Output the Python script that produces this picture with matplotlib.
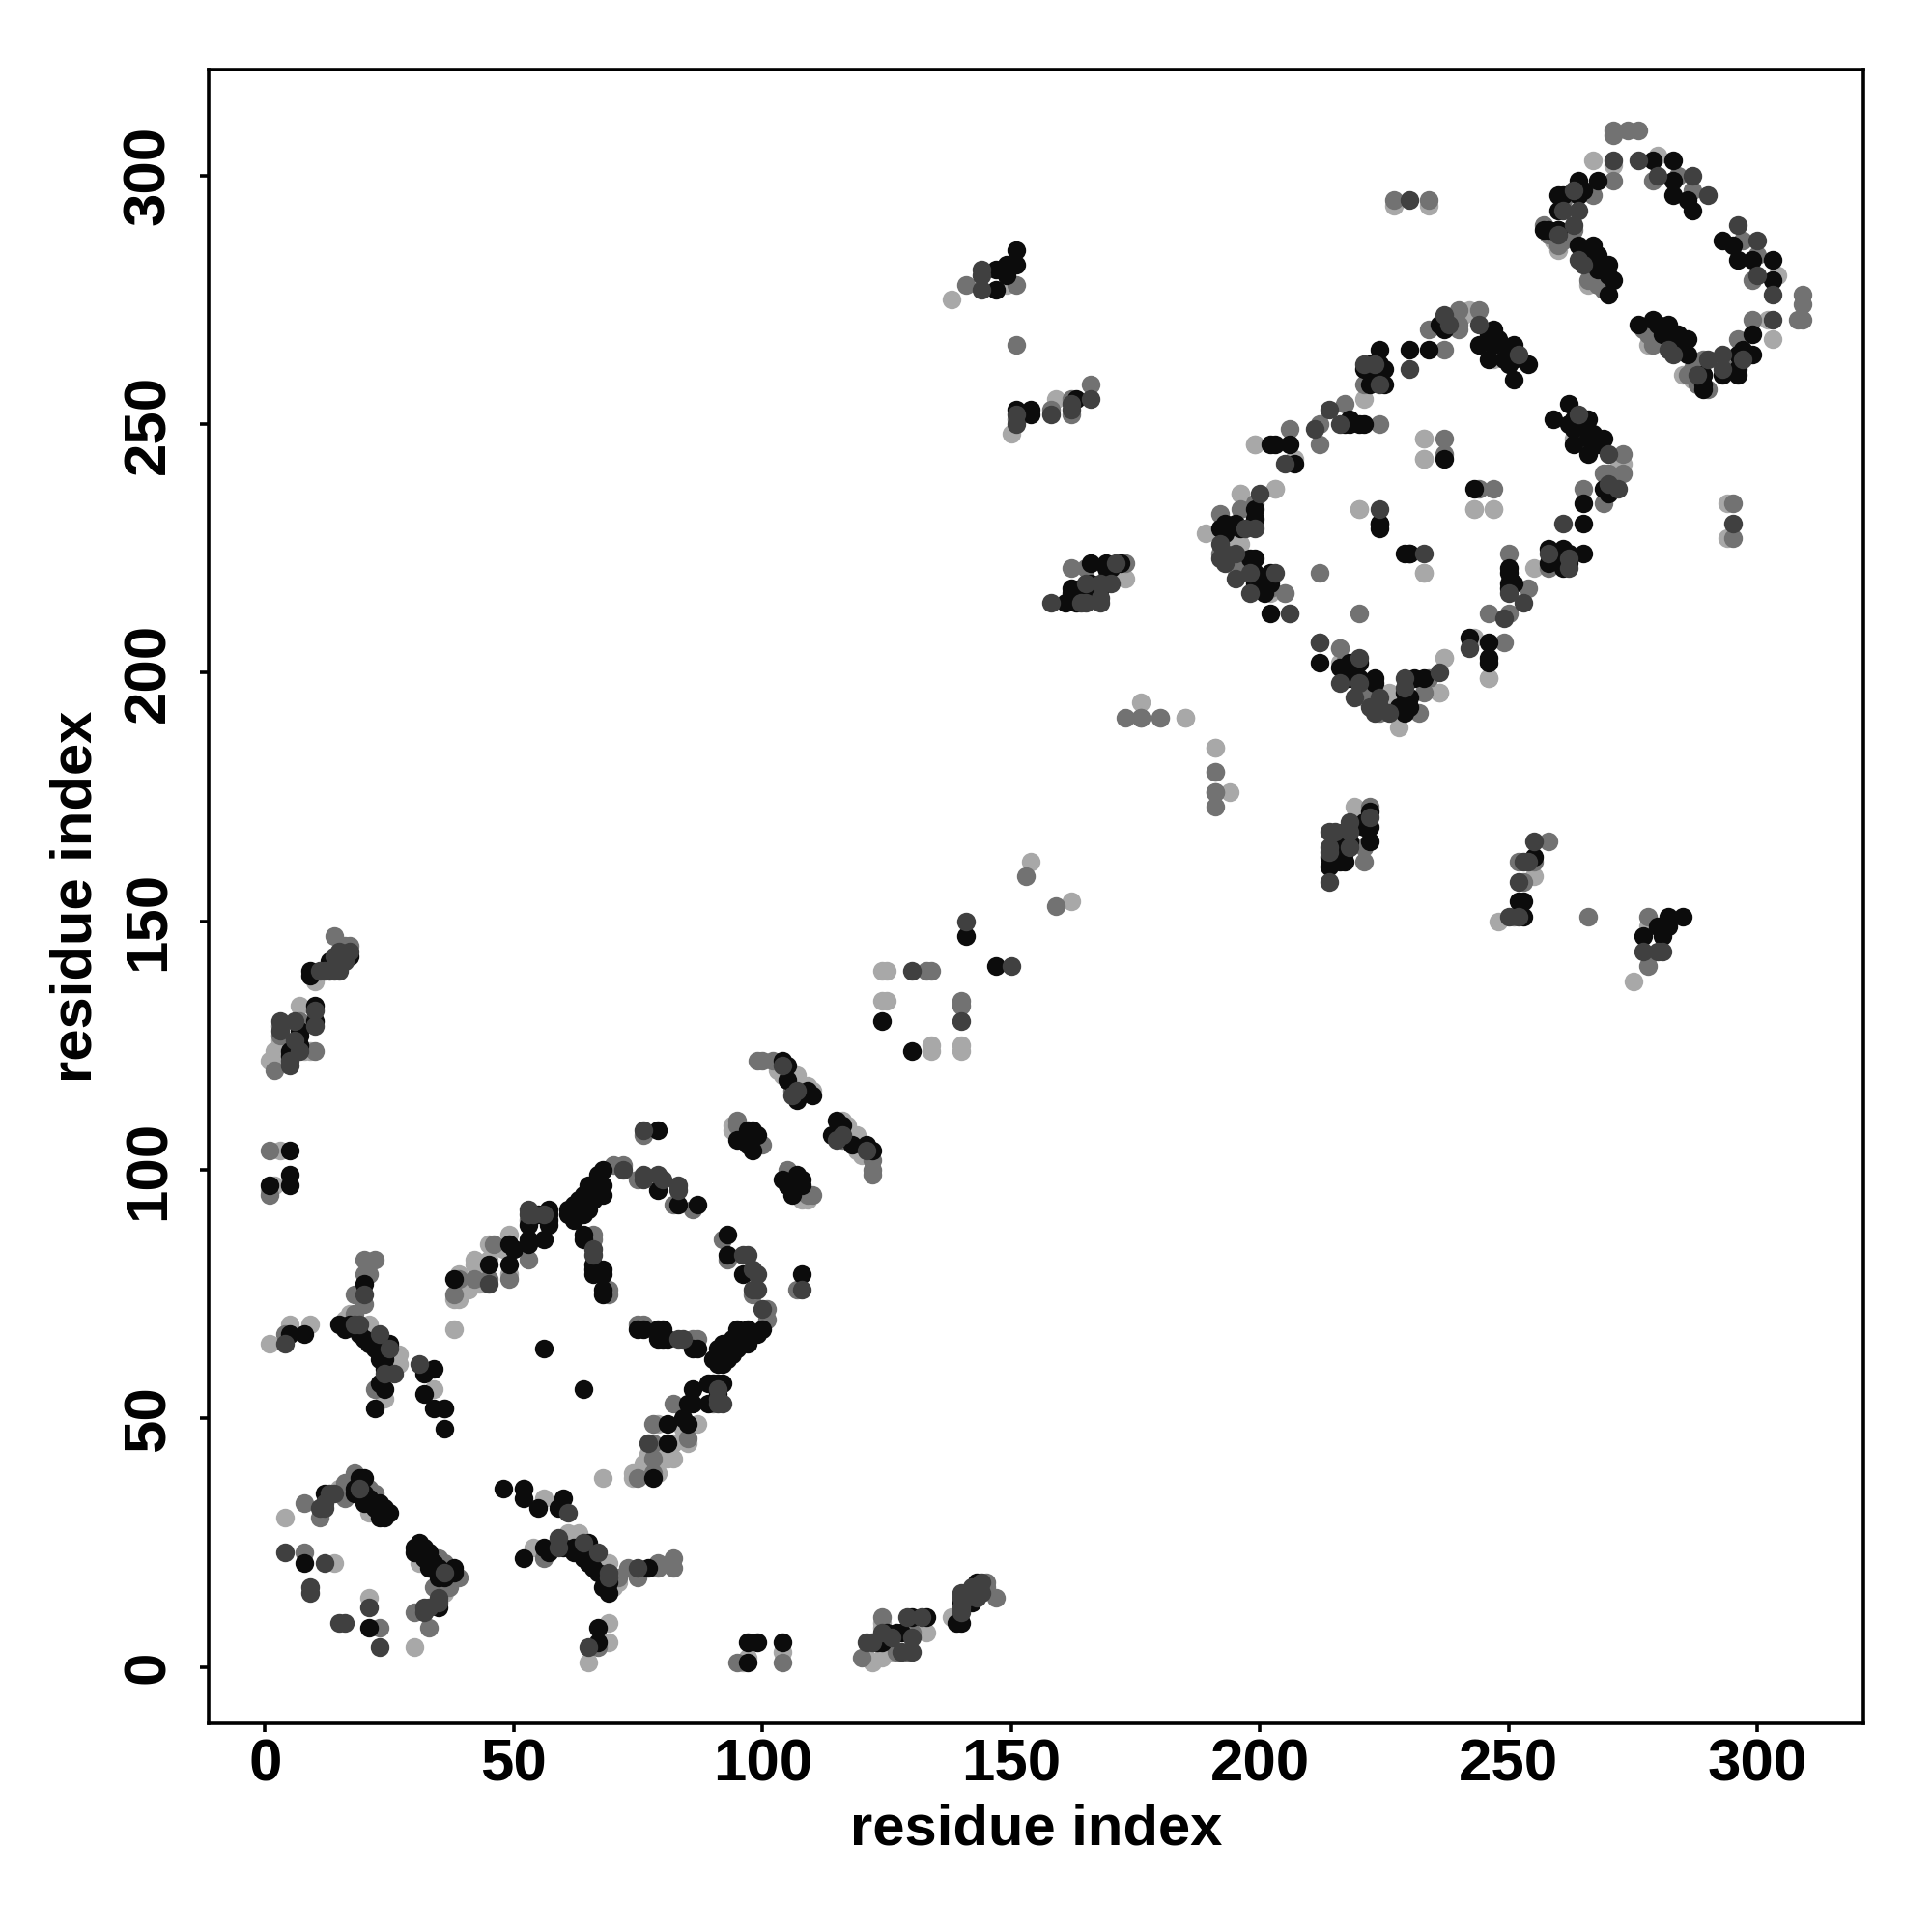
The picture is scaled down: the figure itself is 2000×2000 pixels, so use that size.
import matplotlib
matplotlib.use('Agg')
from matplotlib import pyplot as plt

plt.rcParams['font.family'] = ['Liberation Sans', 'DejaVu Sans']
plt.rcParams['font.weight'] = 'bold'

# contacts (i, j) with i < j, the map is symmetric so both sides get drawn
black = [
    (8,21),(18,36),(19,38),(20,38),(19,35),(20,35),(21,34),(22,33),(22,32),(23,31),(24,31),(24,32),(25,31),
    (23,30),(24,30),(20,33),(21,33),(18,35),(23,33),(12,35),
    (15,69),(17,69),(19,67),(22,64),(25,65),(24,60),(24,63),(24,56),(22,52),(32,59),(32,55),(34,52),(36,48),
    (5,97),(5,99),(5,104),(1,97),(8,67),(5,67),(16,68),(20,66),(21,65),(23,62),(20,77),(23,57),(22,65),(24,62),
    (38,78),(49,81),(49,85),(53,85),(53,89),(57,91),(55,91),(57,89),(61,91),(64,91),(63,94),(65,93),(65,97),
    (67,99),(68,97),(64,86),(66,81),(66,79),(68,79),(68,75),(79,96),(83,93),(87,93),(64,87),(68,76),(68,80),
    (66,80),(45,81),(53,86),(56,86),(57,90),(57,92),(65,92),(63,92),(61,92),(66,94),(65,95),(68,100),(68,95),
    (62,93),(64,95),(66,96),(67,97),(63,91),(62,90),(56,64),(34,60),(52,36),(50,84),
    (7,127),(10,130),(10,133),(9,140),(13,142),(17,143),(15,143),(5,123),(5,124),(7,125),(7,128),(9,139),
    (13,140),(15,142),(16,143),
    (97,108),(99,107),(96,106),(98,104),(98,108),(97,105),(95,106),(79,108),(105,121),(107,114),(110,115),
    (104,122),(105,118),(109,116),(98,107),(124,130),(141,147),
    (147,277),(147,281),(149,281),(151,285),(151,282),(154,253),(163,255),(161,214),(162,217),(164,217),
    (166,218),(166,222),(169,222),(149,282),(149,280),(151,253),(154,252),
    (162,216),(165,216),(168,217),(169,221),(170,221),(172,222),(163,214),
    (192,229),(196,229),(199,233),(199,223),(199,220),(202,220),(202,212),(202,246),(206,246),(207,242),
    (217,250),(221,250),(224,265),(225,261),(225,258),(230,265),(234,265),(237,269),(244,266),(247,266),
    (247,269),(251,266),(251,263),(254,262),(251,259),(193,228),(198,223),(203,246),(218,250),(220,250),
    (224,262),(224,230),(229,224),(237,243),(201,216),(230,224),
    (218,251),(222,258),(223,259),(221,261),(222,262),(202,218),(199,218),(200,219),(193,230),(195,230),
    (199,231),(236,270),(246,268),(248,267),(246,263),(249,263),(250,265),(250,262),
    (260,293),(260,296),(264,299),(268,299),(264,296),(279,303),(283,303),(283,299),(283,296),(287,293),
    (286,295),(258,289),(260,289),(264,286),(267,286),(267,283),(270,282),(271,279),(270,276),(261,296),
    (257,289),(289,260),(265,284),(266,283),(268,284),(268,281),(270,280),(265,297),
]
dark = [
    (4,23),(9,15),(9,16),(12,21),(11,32),(12,32),(13,35),(14,35),(12,33),(19,36),
    (31,61),(26,59),(23,67),(19,69),(4,65),(20,75),(18,69),(24,59),(25,64),
    (45,77),(56,91),(53,91),(72,100),(76,98),(80,98),(83,96),(83,97),(79,99),(76,99),(66,83),(66,84),
    (53,92),(54,91),(76,108),(106,115),(104,121),(107,116),
    (6,130),(7,124),(11,140),(14,141),(14,140),(5,121),(6,126),(3,130),(10,129),(12,140),(15,140),(16,142),(17,144),
    (5,122),(3,128),(10,132),(14,143),(15,144),
    (130,140),(141,150),(144,277),(144,281),(162,253),(166,255),(158,214),(164,214),(168,218),(168,215),(171,222),
    (144,280),(151,252),(151,250),(158,252),(162,254),(165,214),(168,214),(170,218),(165,218),
    (230,295),(230,261),(221,262),(214,253),(200,236),(199,229),(192,226),(192,223),(205,242),(195,219),(198,216),
    (224,233),(237,272),(244,270),(211,249),(206,212),
    (216,250),(223,262),(224,258),(203,220),(198,220),(197,229),(195,224),(193,224),(193,222),(238,270),(252,264),
    (271,303),(276,303),(280,300),(287,300),(290,296),(264,293),(263,290),(264,283),(261,293),(265,282),(263,297),
    (260,288),
]
mid = [
    (8,33),(8,23),(11,30),(16,37),(18,39),(21,36),(22,35),(16,34),
    (1,95),(1,104),(4,67),(20,82),(22,82),(20,79),(18,75),(18,71),(22,56),(36,52),(21,79),(20,73),
    (38,75),(46,85),(49,78),(53,82),(66,86),(69,75),(70,101),(72,101),(69,76),(66,87),(76,107),(75,98),
    (82,93),(86,92),(45,78),(42,78),(39,78),(53,90),
    (95,109),(100,105),(99,105),(95,110),(106,116),(102,122),(99,122),(100,122),
    (3,129),(14,147),(17,145),(16,145),(2,120),(10,124),(7,130),(3,127),(6,124),
    (133,140),(134,140),(153,159),(141,278),(151,278),(151,266),(151,251),(158,253),(162,255),(166,258),
    (162,221),(169,219),(173,222),(165,221),(173,191),(176,191),(191,180),(176,191),(227,295),(234,295),(162,252),
    (212,250),(212,246),(206,249),(196,233),(192,232),(196,223),(237,265),(234,269),(244,273),(240,273),
    (240,269),(217,254),(221,258),(224,250),(212,220),(212,206),(216,205),(217,202),(237,247),(237,244),
    (196,220),(192,224),(195,223),(199,234),(240,270),
    (271,309),(274,309),(276,309),(271,299),(279,299),(284,300),(287,297),(261,295),(263,289),(260,286),
    (267,296),(267,280),(266,279),(271,308),(257,290),(267,279),(258,288),(261,287),(268,278),(269,277),
]
light = [
    (4,30),(14,21),(15,36),(22,34),(21,31),(16,36),
    (1,65),(5,69),(9,69),(2,97),(3,104),(17,71),(21,69),(27,63),(27,61),(34,56),(24,54),(38,68),(16,70),
    (39,74),(38,74),(39,79),(42,81),(42,77),(43,77),(45,85),(48,84),(49,87),(45,82),(49,79),(42,82),(44,80),(41,76),
    (94,108),(103,120),(107,119),(110,116),(109,117),(104,119),(94,109),
    (1,122),(2,121),(7,133),(8,124),(2,124),(1,96),(9,124),(3,126),(10,138),
    (124,134),(124,140),(125,140),(125,134),
    (154,162),(159,255),(150,248),(149,278),(138,275),(173,219),(170,219),(176,194),(180,191),(185,191),
    (191,185),(227,294),(234,294),
    (199,246),(196,236),(203,237),(195,226),(196,226),(189,228),(195,221),(202,216),(205,216),(221,255),
    (233,247),(233,243),(220,233),(233,220),(243,233),(247,233),(247,263),(246,199),(237,203),(236,196),
    (207,243),(240,272),(241,272),(239,271),(242,273),
    (267,303),(280,304),(271,302),(266,278),(260,285),(262,288),(259,287),
]
tick_vals = [0, 50, 100, 150, 200, 250, 300]

# grey, drawing order follows the picture more or less
layers = [(light, '#a8a8a8'), (mid, '#727272'), (black, '#0c0c0c'), (dark, '#404040')]

fig = plt.figure(figsize=(20, 20), dpi=100)
ax = fig.add_axes([0.108, 0.108, 0.8565, 0.856])

for pairs, col in layers:
    i = [p[0] for p in pairs]
    j = [p[1] for p in pairs]
    ax.scatter(i + j, j + i, s=195, c=col, linewidths=0, zorder=3)

ax.set_xlim(-11.3, 321.3)
ax.set_ylim(-11.3, 321.3)
ax.set_xticks(tick_vals)
ax.set_yticks(tick_vals)
ax.tick_params(axis='both', width=2.6, length=6.5, labelsize=44.5)
ax.tick_params(axis='x', pad=5)
ax.tick_params(axis='y', pad=17)
for lab in ax.get_yticklabels():
    lab.set_rotation(90)
    lab.set_va('center')
for s in ax.spines.values():
    s.set_linewidth(2.6)

ax.set_xlabel('residue index', fontsize=43, fontweight='bold', labelpad=7)
ax.set_ylabel('residue index', fontsize=43, fontweight='bold', labelpad=14)

fig.savefig('out.png', dpi=100)
